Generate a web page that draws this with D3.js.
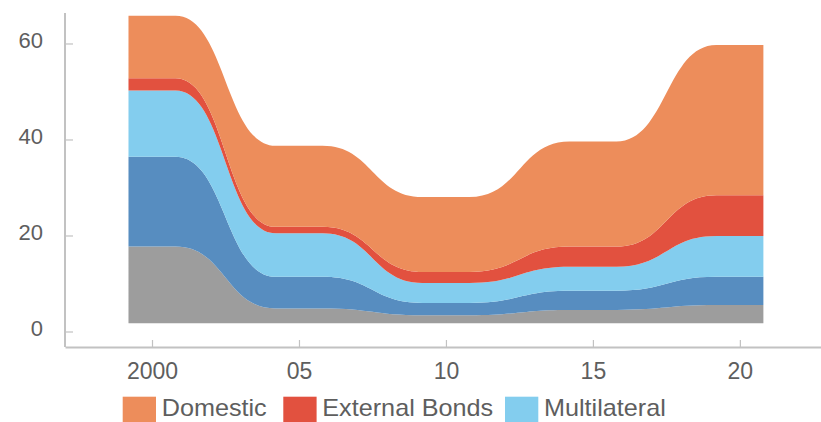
<!DOCTYPE html>
<html>
<head>
<meta charset="utf-8">
<script src="https://cdn.jsdelivr.net/npm/d3@7"></script>
<style>
  body { margin: 0; background: #fff; }
  svg { display: block; }
</style>
</head>
<body>
<svg id="chart" width="821" height="422"></svg>
<script>
// ---- data ----
const years = [2000, 2005, 2010, 2015, 2020];
const otherDebt = [16.0, 3.1, 1.7, 2.8, 3.8];        // gray
const bilateral = [18.7, 6.6, 2.55, 4.0, 5.9];       // dark blue
const multilateral = [13.8, 9.05, 4.15, 5.0, 8.5];   // light blue
const externalBonds = [2.55, 1.35, 2.3, 4.2, 8.5];   // red
const domestic = [13.05, 16.9, 15.6, 21.9, 31.3];    // orange
const areaBase = 1.7;
const seriesKeys = ["Other", "Bilateral", "Multilateral", "External Bonds", "Domestic"];
const xTicks = [2000, 2005, 2010, 2015, 2020];
const xTickLabels = ["2000", "05", "10", "15", "20"];
const yTicks = [0, 20, 40, 60];
const legendItems = ["Domestic", "External Bonds", "Multilateral"];

// ---- styles ----
const colors = {
  "Other": "#9d9d9d",
  "Bilateral": "#578dc0",
  "Multilateral": "#83cdee",
  "External Bonds": "#e2513f",
  "Domestic": "#ed8d5b"
};
const plateauHalf = 0.8;

const seriesVals = {
  "Other": otherDebt, "Bilateral": bilateral, "Multilateral": multilateral,
  "External Bonds": externalBonds, "Domestic": domestic
};

// table: each reading is held flat over a short span around its year
const table = [];
years.forEach((yr, i) => {
  [yr - plateauHalf, yr + plateauHalf].forEach(t => {
    const row = { t };
    seriesKeys.forEach(k => row[k] = seriesVals[k][i]);
    table.push(row);
  });
});

const svg = d3.select("#chart");
const x = d3.scaleLinear().domain([1997.04, 2022.76]).range([65, 821]);
const y = d3.scaleLinear().domain([0, 66.35]).range([331.5, 13]);

const stack = d3.stack().keys(seriesKeys);
const layers = stack(table);

const area = d3.area()
  .curve(d3.curveBumpX)
  .x(d => x(d.data.t))
  .y0(d => y(d[0] + areaBase))
  .y1(d => y(d[1] + areaBase));

svg.append("g").selectAll("path").data(layers).join("path")
  .attr("d", area)
  .attr("fill", d => colors[d.key]);

// axes
const axisColor = "#c2c2c2";
const textColor = "#5e5e5e";

const yAxis = svg.append("g").attr("transform", "translate(65,0)")
  .call(d3.axisLeft(y).tickValues(yTicks).tickSize(-8).tickSizeOuter(0).tickPadding(22));
yAxis.select(".domain").remove();
yAxis.selectAll(".tick line").attr("stroke", axisColor).attr("stroke-width", 1.2);
yAxis.selectAll(".tick text").attr("fill", textColor)
  .style("font-family", "Liberation Sans, Arial, sans-serif").style("font-size", "22px")
  .attr("dy", "0.2em");

svg.append("line").attr("x1", 65).attr("x2", 65).attr("y1", 13).attr("y2", 347)
  .attr("stroke", axisColor).attr("stroke-width", 2);

const xAxis = svg.append("g").attr("transform", "translate(0,347)")
  .call(d3.axisBottom(x).tickValues(xTicks).tickFormat((d, i) => xTickLabels[i])
    .tickSize(-7).tickSizeOuter(0).tickPadding(16));
xAxis.select(".domain").attr("stroke", axisColor).attr("stroke-width", 2);
xAxis.selectAll(".tick line").attr("stroke", axisColor).attr("stroke-width", 1.2);
xAxis.selectAll(".tick text").attr("fill", textColor)
  .style("font-family", "Liberation Sans, Arial, sans-serif").style("font-size", "23px");

// legend
const legendX = [122.7, 283.3, 505];
const lg = svg.append("g");
legendItems.forEach((name, i) => {
  lg.append("rect").attr("x", legendX[i]).attr("y", 396.7)
    .attr("width", 33.3).attr("height", 30).attr("fill", colors[name]);
  const t = lg.append("text").attr("x", legendX[i] + 39).attr("y", 416)
    .attr("fill", textColor)
    .style("font-family", "Liberation Sans, Arial, sans-serif").style("font-size", "24px")
    .text(name);
  const w = t.node().getComputedTextLength();
  t.attr("textLength", w * 1.05).attr("lengthAdjust", "spacingAndGlyphs");
});
</script>
</body>
</html>
